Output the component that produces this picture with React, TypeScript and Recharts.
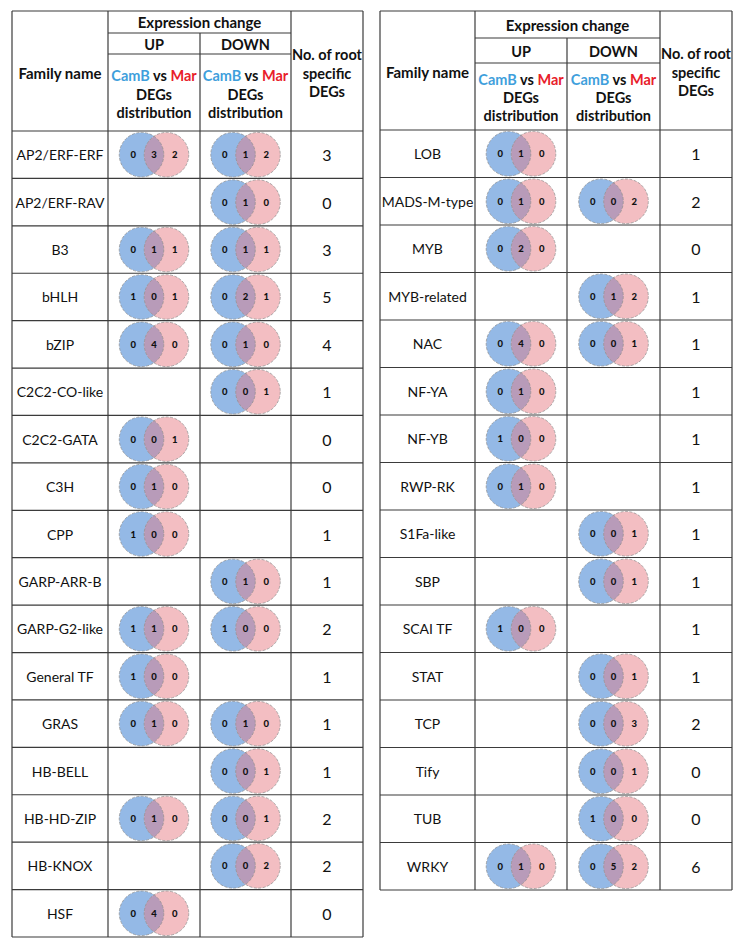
import React from "react";
import { ScatterChart, Scatter, XAxis, YAxis, ReferenceLine } from "recharts";

// ---- data: left table ----
const LEFT_FAMILIES = [
  "AP2/ERF-ERF", "AP2/ERF-RAV", "B3", "bHLH", "bZIP", "C2C2-CO-like", "C2C2-GATA",
  "C3H", "CPP", "GARP-ARR-B", "GARP-G2-like", "General TF", "GRAS", "HB-BELL",
  "HB-HD-ZIP", "HB-KNOX", "HSF",
];
// [CamB only, shared, Mar only]
const LEFT_UP = [
  [0, 3, 2], null, [0, 1, 1], [1, 0, 1], [0, 4, 0], null, [0, 0, 1],
  [0, 1, 0], [1, 0, 0], null, [1, 1, 0], [1, 0, 0], [0, 1, 0], null,
  [0, 1, 0], null, [0, 4, 0],
];
const LEFT_DOWN = [
  [0, 1, 2], [0, 1, 0], [0, 1, 1], [0, 2, 1], [0, 1, 0], [0, 0, 1], null,
  null, null, [0, 1, 0], [1, 0, 0], null, [0, 1, 0], [0, 0, 1],
  [0, 0, 1], [0, 0, 2], null,
];
const LEFT_ROOT = [3, 0, 3, 5, 4, 1, 0, 0, 1, 1, 2, 1, 1, 1, 2, 2, 0];

// ---- data: right table ----
const RIGHT_FAMILIES = [
  "LOB", "MADS-M-type", "MYB", "MYB-related", "NAC", "NF-YA", "NF-YB", "RWP-RK",
  "S1Fa-like", "SBP", "SCAI TF", "STAT", "TCP", "Tify", "TUB", "WRKY",
];
const RIGHT_UP = [
  [0, 1, 0], [0, 1, 0], [0, 2, 0], null, [0, 4, 0], [0, 1, 0], [1, 0, 0], [0, 1, 0],
  null, null, [1, 0, 0], null, null, null, null, [0, 1, 0],
];
const RIGHT_DOWN = [
  null, [0, 0, 2], null, [0, 1, 2], [0, 0, 1], null, null, null,
  [0, 0, 1], [0, 0, 1], null, [0, 0, 1], [0, 0, 3], [0, 0, 1], [1, 0, 0], [0, 5, 2],
];
const RIGHT_ROOT = [1, 2, 0, 1, 1, 1, 1, 1, 1, 1, 1, 1, 2, 0, 0, 6];

// ---- header labels ----
const HEAD_FAMILY = "Family name";
const HEAD_EXPR = "Expression change";
const HEAD_UP = "UP";
const HEAD_DOWN = "DOWN";
const HEAD_ROOT = ["No. of root", "specific", "DEGs"];
const HEAD_DIST = ["DEGs", "distribution"];

const FONT = "Lato, 'Open Sans', sans-serif";
const LINE = "#3b3b3b";
const CAMB_BLUE = "#3f9fdc";
const MAR_RED = "#e8202a";
const VENN_BLUE = "#94b9e6";
const VENN_PINK = "#f3bec2";
const VENN_MID = "#b89bb9";

const LEFT_LAYOUT = {
  chartW: 372, chartH: 952,
  margin: { top: 11, left: 12, right: 9, bottom: 15 },
  cols: [96, 92, 91, 72],
  headerPx: 120, exprPx: 22, updownPx: 43,
  text: { expr: 11, updown: 33, camb: 64, degs: 83, dist: 101, family: 62, root: [43, 62, 80] },
};
const RIGHT_LAYOUT = {
  chartW: 371, chartH: 952,
  margin: { top: 11, left: 8, right: 11, bottom: 62 },
  cols: [95, 92, 93, 72],
  headerPx: 119, exprPx: 27, updownPx: 52,
  text: { expr: 14, updown: 40, camb: 68, degs: 86, dist: 104, family: 61, root: [42, 61, 79] },
};

type Layout = typeof LEFT_LAYOUT;

function TextShape(props: any) {
  const { cx, cy, payload } = props;
  return (
    <text
      x={cx}
      y={cy}
      textAnchor="middle"
      dominantBaseline="central"
      fontFamily={FONT}
      fontSize={payload.size ?? 14}
      fontWeight={payload.bold ? 700 : 400}
      fill="#111"
    >
      {payload.parts
        ? payload.parts.map((p: any, i: number) => (
            <tspan key={i} fill={p.c}>{p.t}</tspan>
          ))
        : payload.label}
    </text>
  );
}

function makeVenn(rowPx: number) {
  return function VennShape(props: any) {
    const { cx, cy, payload } = props;
    const r = rowPx * 0.47;
    const d = r * 1.12;
    const h = Math.sqrt(r * r - (d / 2) * (d / 2));
    const lx = cx - d / 2;
    const rx = cx + d / 2;
    const lens = `M ${cx} ${cy - h} A ${r} ${r} 0 0 1 ${cx} ${cy + h} A ${r} ${r} 0 0 1 ${cx} ${cy - h} Z`;
    const off = r * 0.93;
    const v = payload.v as number[];
    return (
      <g>
        <circle cx={lx} cy={cy} r={r} fill={VENN_BLUE} />
        <circle cx={rx} cy={cy} r={r} fill={VENN_PINK} />
        <path d={lens} fill={VENN_MID} />
        <circle cx={lx} cy={cy} r={r} fill="none" stroke="#8c8c8c" strokeWidth={0.7} strokeDasharray="3 1.5" />
        <circle cx={rx} cy={cy} r={r} fill="none" stroke="#8c8c8c" strokeWidth={0.7} strokeDasharray="3 1.5" />
        {[-off, 0, off].map((dx, i) => (
          <text
            key={i}
            x={cx + dx}
            y={cy}
            textAnchor="middle"
            dominantBaseline="central"
            fontFamily={FONT}
            fontSize={9.5}
            fontWeight={900}
            fill="#111"
          >
            {v[i]}
          </text>
        ))}
      </g>
    );
  };
}

function TablePanel({ families, up, down, root, layout }: {
  families: string[]; up: (number[] | null)[]; down: (number[] | null)[]; root: number[]; layout: Layout;
}) {
  const L = layout;
  const n = families.length;
  const W = L.cols.reduce((a, b) => a + b, 0);
  const plotH = L.chartH - L.margin.top - L.margin.bottom;
  const rowPx = (plotH - L.headerPx) / n;
  const toY = (off: number) => (off - L.headerPx) / rowPx;
  const yMin = toY(0);
  const edges = [0];
  L.cols.forEach((c) => edges.push(edges[edges.length - 1] + c));
  const centers = L.cols.map((c, i) => edges[i] + c / 2);

  const lines: { x1: number; y1: number; x2: number; y2: number }[] = [
    { x1: 0, y1: yMin, x2: W, y2: yMin },
    { x1: 0, y1: n, x2: W, y2: n },
    { x1: 0, y1: yMin, x2: 0, y2: n },
    { x1: W, y1: yMin, x2: W, y2: n },
    { x1: edges[1], y1: yMin, x2: edges[1], y2: n },
    { x1: edges[3], y1: yMin, x2: edges[3], y2: n },
    { x1: edges[2], y1: toY(L.exprPx), x2: edges[2], y2: n },
    { x1: edges[1], y1: toY(L.exprPx), x2: edges[3], y2: toY(L.exprPx) },
    { x1: edges[1], y1: toY(L.updownPx), x2: edges[3], y2: toY(L.updownPx) },
  ];
  for (let i = 0; i < n; i++) lines.push({ x1: 0, y1: i, x2: W, y2: i });

  const nameData = families.map((f, i) => ({ x: centers[0], y: i + 0.5, label: f, size: 14 }));
  const rootData = root.map((v, i) => ({ x: centers[3], y: i + 0.5, label: String(v), size: 16 }));
  const upData = up.map((v, i) => (v ? { x: centers[1], y: i + 0.5, v } : null)).filter(Boolean);
  const downData = down.map((v, i) => (v ? { x: centers[2], y: i + 0.5, v } : null)).filter(Boolean);

  const T = L.text;
  const cambParts = [
    { t: "CamB", c: CAMB_BLUE },
    { t: " vs ", c: "#111" },
    { t: "Mar", c: MAR_RED },
  ];
  const exprX = (edges[1] + edges[3]) / 2;
  const headerData: any[] = [
    { x: centers[0], y: toY(T.family), label: HEAD_FAMILY, size: 15 },
    { x: exprX, y: toY(T.expr), label: HEAD_EXPR, size: 15 },
    { x: centers[1], y: toY(T.updown), label: HEAD_UP },
    { x: centers[2], y: toY(T.updown), label: HEAD_DOWN },
  ];
  [1, 2].forEach((c) => {
    headerData.push({ x: centers[c], y: toY(T.camb), parts: cambParts });
    headerData.push({ x: centers[c], y: toY(T.degs), label: HEAD_DIST[0] });
    headerData.push({ x: centers[c], y: toY(T.dist), label: HEAD_DIST[1] });
  });
  HEAD_ROOT.forEach((s, i) => headerData.push({ x: centers[3], y: toY(T.root[i]), label: s }));
  headerData.forEach((h) => {
    h.bold = true;
    h.size = h.size ?? 14.5;
  });

  const Venn = makeVenn(rowPx);

  return (
    <ScatterChart width={L.chartW} height={L.chartH} margin={L.margin}>
      <XAxis type="number" dataKey="x" domain={[0, W]} allowDataOverflow hide />
      <YAxis type="number" dataKey="y" domain={[yMin, n]} allowDataOverflow reversed hide />
      <Scatter data={upData as any[]} shape={Venn} isAnimationActive={false} />
      <Scatter data={downData as any[]} shape={Venn} isAnimationActive={false} />
      {lines.map((s, i) => (
        <ReferenceLine
          key={i}
          segment={[{ x: s.x1, y: s.y1 }, { x: s.x2, y: s.y2 }]}
          stroke={LINE}
          strokeWidth={1.2}
          ifOverflow="visible"
        />
      ))}
      <Scatter data={nameData} shape={TextShape} isAnimationActive={false} />
      <Scatter data={rootData} shape={TextShape} isAnimationActive={false} />
      <Scatter data={headerData} shape={TextShape} isAnimationActive={false} />
    </ScatterChart>
  );
}

export default function App() {
  return (
    <div
      style={{
        position: "absolute",
        left: 0,
        top: 0,
        width: 743,
        height: 952,
        background: "#fff",
        display: "flex",
      }}
    >
      <TablePanel families={LEFT_FAMILIES} up={LEFT_UP} down={LEFT_DOWN} root={LEFT_ROOT} layout={LEFT_LAYOUT} />
      <TablePanel families={RIGHT_FAMILIES} up={RIGHT_UP} down={RIGHT_DOWN} root={RIGHT_ROOT} layout={RIGHT_LAYOUT} />
    </div>
  );
}
